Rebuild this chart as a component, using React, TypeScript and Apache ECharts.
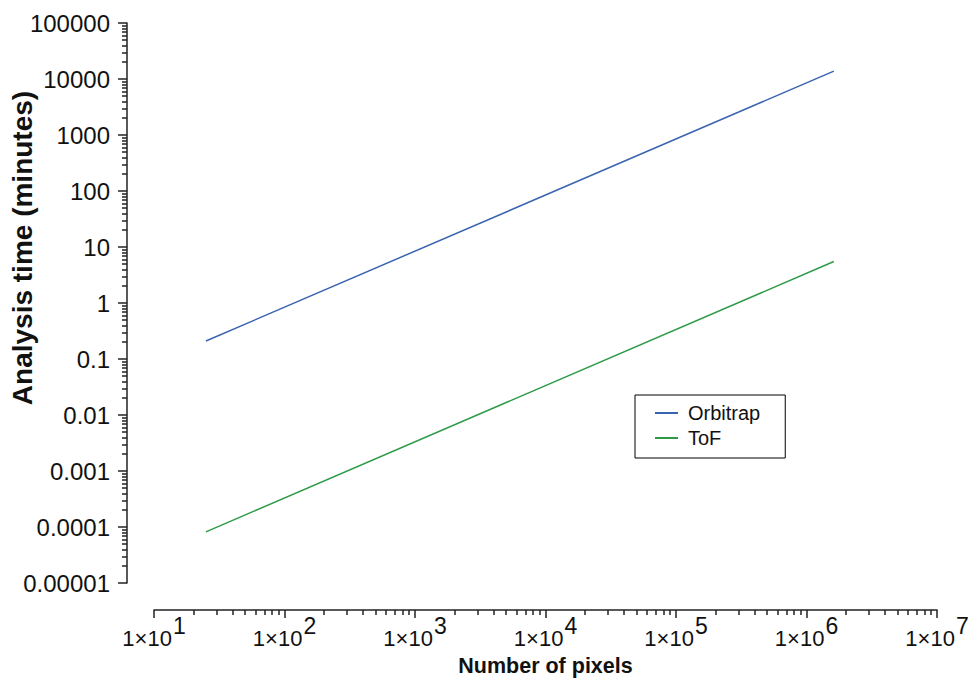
import React, { useEffect, useRef } from "react";
import * as echarts from "echarts";

const seriesNames = ["Orbitrap", "ToF"];
const pixelCounts = [25, 1620000];
const orbitrapMinutes = [0.21, 13800];
const tofMinutes = [0.000082, 5.5];
const seriesColors = ["#3a63b0", "#2e9a48"];
const yTickLabels = ["0.00001", "0.0001", "0.001", "0.01", "0.1", "1", "10", "100", "1000", "10000", "100000"];
const xTickExponents = ["1", "2", "3", "4", "5", "6", "7"];

const FONT = "'Liberation Sans', Arial, Helvetica, sans-serif";

export default function App() {
  const ref = useRef<HTMLDivElement>(null);
  useEffect(() => {
    const chart = echarts.init(ref.current!, null, { renderer: "svg" });
    const axisColor = "#222";
    chart.setOption({
      animation: false,
      textStyle: { fontFamily: FONT },
      grid: { left: 154, right: 36, top: 23, bottom: 96, containLabel: false, outerBoundsMode: "none" },
      legend: {
        orient: "vertical",
        left: 635,
        top: 395,
        padding: [8, 25, 10, 20],
        borderColor: "#000",
        borderWidth: 1,
        itemWidth: 23,
        itemHeight: 2,
        itemGap: 5,
        textStyle: { fontSize: 20, color: "#111", fontFamily: FONT, padding: [0, 0, 0, 5], lineHeight: 20 },
        data: seriesNames.map((n, i) => ({ name: n, icon: "rect", itemStyle: { color: seriesColors[i] } })),
      },
      xAxis: {
        type: "log",
        logBase: 10,
        min: 10,
        max: 10000000,
        interval: 1,
        offset: 27,
        name: "Number of pixels",
        nameLocation: "middle",
        nameGap: 45,
        nameMoveOverlap: false,
        nameTextStyle: { fontSize: 21.5, fontWeight: "bold", color: "#111", fontFamily: FONT },
        axisLine: { show: true, lineStyle: { color: axisColor, width: 1.5 } },
        axisTick: { show: true, length: 8, lineStyle: { color: axisColor, width: 1.5 } },
        minorTick: { show: true, splitNumber: 9, length: 5, lineStyle: { color: axisColor, width: 1.5 } },
        splitLine: { show: false },
        minorSplitLine: { show: false },
        axisLabel: {
          margin: 4,
          formatter: (v: number) => {
            const e = Math.round(Math.log10(v));
            const idx = xTickExponents.indexOf(String(e));
            return `{b|1×10}{s|${xTickExponents[idx]}}`;
          },
          rich: {
            b: { fontSize: 22, color: "#111", fontFamily: FONT, verticalAlign: "bottom" },
            s: { fontSize: 23, color: "#111", fontFamily: FONT, verticalAlign: "bottom", padding: [0, 0, 12, 1] },
          },
        },
      },
      yAxis: {
        type: "log",
        logBase: 10,
        min: 0.00001,
        max: 100000,
        interval: 1,
        offset: 27,
        axisLine: { show: true, lineStyle: { color: axisColor, width: 1.5 } },
        axisTick: { show: true, length: 9, lineStyle: { color: axisColor, width: 1.5 } },
        minorTick: { show: true, splitNumber: 9, length: 5, lineStyle: { color: axisColor, width: 1.5 } },
        splitLine: { show: false },
        minorSplitLine: { show: false },
        axisLabel: {
          margin: 17,
          fontSize: 24,
          color: "#111",
          fontFamily: FONT,
          formatter: (v: number) => {
            const e = Math.round(Math.log10(v));
            return yTickLabels[e + 5];
          },
        },
      },
      graphic: [
        {
          type: "text",
          x: 22,
          y: 248,
          rotation: Math.PI / 2,
          style: {
            text: "Analysis time (minutes)",
            font: `bold 28px ${FONT}`,
            fill: "#111",
            textAlign: "center",
            textVerticalAlign: "middle",
          },
        },
      ],
      series: [
        {
          name: seriesNames[0],
          type: "line",
          symbol: "none",
          color: seriesColors[0],
          lineStyle: { width: 1.5, color: seriesColors[0] },
          data: pixelCounts.map((x, i) => [x, orbitrapMinutes[i]]),
        },
        {
          name: seriesNames[1],
          type: "line",
          symbol: "none",
          color: seriesColors[1],
          lineStyle: { width: 1.5, color: seriesColors[1] },
          data: pixelCounts.map((x, i) => [x, tofMinutes[i]]),
        },
      ],
    });
    return () => chart.dispose();
  }, []);
  return <div ref={ref} style={{ width: 973, height: 679, position: "absolute", left: 0, top: 0 }} />;
}
